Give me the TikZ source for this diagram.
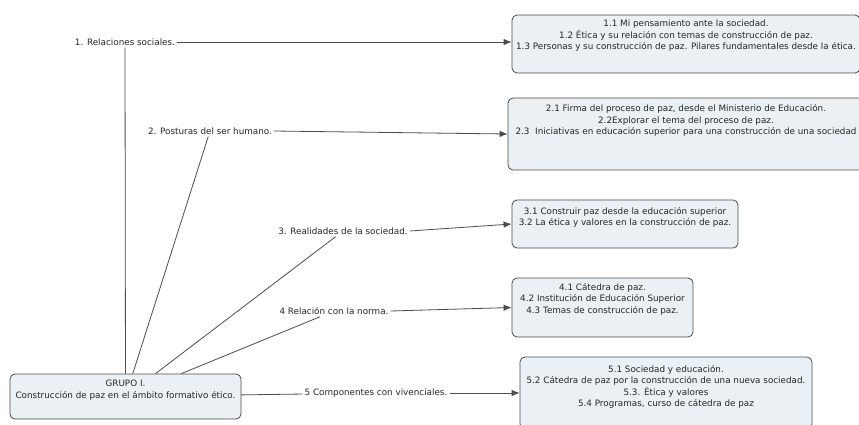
\documentclass[tikz,border=0pt]{standalone}
\usepackage{fontspec}
\setmainfont{DejaVu Sans}
\usetikzlibrary{arrows.meta}

\definecolor{boxfill}{HTML}{EAF0F4}
\newcommand\boxgap[1]{\rule[-#1pt]{0pt}{#1pt}}

\begin{document}
\begin{tikzpicture}[x=1pt, y=-1pt,
  every node/.style={font=\fontsize{8.8pt}{11.5pt}\selectfont, text=black!85},
  topicbox/.style={draw=black!70, fill=\boxcolor, rounded corners=5pt, line width=0.8pt, align=center, inner sep=2pt},
  branch/.style={inner sep=2pt},
  link/.style={draw=black!70, line width=0.8pt},
  arrowlink/.style={link, -{Latex[length=8pt, width=6.5pt]}}]
\def\boxcolor{boxfill}

\useasboundingbox (0,0) rectangle (859,424);
\fill[white] (0,0) rectangle (859,424);
\clip (0,0) rectangle (859,424);

% CENTRE
\node[topicbox, minimum width=231pt, minimum height=45pt] (grp) at (125.5,396.5)
  {GRUPO I.\\Construcción de paz en el ámbito formativo ético.\boxgap{15}};

% BRANCH LABELS
\node[branch] (l1) at (125,42) {1. Relaciones sociales.};
\node[branch] (l2) at (210,131) {2. Posturas del ser humano.};
\node[branch] (l3) at (343,231) {3. Realidades de la sociedad.};
\node[branch] (l4) at (334,311) {4 Relación con la norma.};
\node[branch] (l5) at (376,393) {5 Componentes con vivenciales.};

% TOPIC BOXES
\node[topicbox, minimum width=348pt, minimum height=58pt] (b1) at (686,44)
  {1.1 Mi pensamiento ante la sociedad.\\
   1.2 Ética y su relación con temas de construcción de paz.\\
   1.3 Personas y su construcción de paz. Pilares fundamentales desde la ética.\boxgap{18}};
\node[topicbox, minimum width=356pt, minimum height=72pt] (b2) at (686,134)
  {2.1 Firma del proceso de paz, desde el Ministerio de Educación.\\
   2.2Explorar el tema del proceso de paz.\\
   2.3\ \ Iniciativas en educación superior para una construcción de una sociedad\boxgap{29}};
\node[topicbox, minimum width=226pt, minimum height=48pt] (b3) at (625,224)
  {3.1 Construir paz desde la educación superior\\
   3.2 La ética y valores en la construcción de paz.\boxgap{15}};
\node[topicbox, minimum width=181pt, minimum height=59pt] (b4) at (602.5,307.5)
  {4.1 Cátedra de paz.\\
   4.2 Institución de Educación Superior\\
   4.3 Temas de construcción de paz.\boxgap{19}};
\node[topicbox, minimum width=292pt, minimum height=72pt] (b5) at (666,393)
  {5.1 Sociedad y educación.\\
   5.2 Cátedra de paz por la construcción de una nueva sociedad.\\
   5.3. Ética y valores\\
   5.4 Programas, curso de cátedra de paz\boxgap{14}};

% SPOKES
\draw[link] (grp) -- (l1);
\draw[link] (grp) -- (l2);
\draw[link] (grp) -- (l3);
\draw[link] (grp) -- (l4);
\draw[link] (grp) -- (l5);

% ARROWS
\draw[arrowlink] (l1) -- (l1 -| b1.west);
\draw[arrowlink] (l2.east) -- (b2.west);
\draw[arrowlink] (l3.east) -- (b3.west);
\draw[arrowlink] (l4.east) -- (b4.west);
\draw[arrowlink] (l5) -- (b5.west);
\end{tikzpicture}
\end{document}
